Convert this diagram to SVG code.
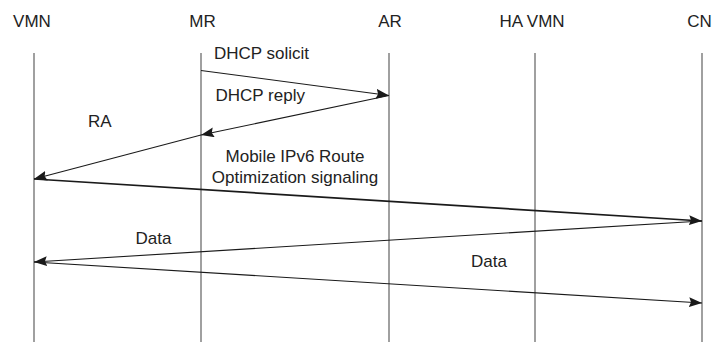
<svg xmlns="http://www.w3.org/2000/svg" width="716" height="342" viewBox="0 0 716 342">
<style>
text{font-family:"Liberation Sans",Arial,sans-serif;font-size:17px;fill:#222}
.life{stroke:#808080;stroke-width:1.5;fill:none}
.msg{stroke:#1a1a1a;stroke-width:1.1;fill:none;marker-end:url(#ah)}
.thick{stroke-width:1.7}
</style>
<defs>
<marker id="ah" markerUnits="userSpaceOnUse" markerWidth="14" markerHeight="10" refX="13" refY="5" orient="auto">
<path d="M0,0 L13,5 L0,10 L2,5 Z" fill="#1a1a1a"/>
</marker>
</defs>
<rect width="716" height="342" fill="#fff"/>
<g id="VMN"><text x="32" y="27" text-anchor="middle">VMN</text><line class="life" x1="34" y1="53" x2="34" y2="342"/></g>
<g id="MR"><text x="202.5" y="27" text-anchor="middle">MR</text><line class="life" x1="201" y1="53" x2="201" y2="342"/></g>
<g id="AR"><text x="390" y="27" text-anchor="middle">AR</text><line class="life" x1="389" y1="53" x2="389" y2="342"/></g>
<g id="HAVMN"><text x="532" y="27" text-anchor="middle">HA VMN</text><line class="life" x1="535" y1="53" x2="535" y2="342"/></g>
<g id="CN"><text x="699.5" y="27" text-anchor="middle">CN</text><line class="life" x1="702" y1="53" x2="702" y2="342"/></g>
<g id="connectors">
<line class="msg" x1="201" y1="70.5" x2="389" y2="95.5"/>
<line class="msg" x1="389" y1="95.5" x2="201" y2="135"/>
<line class="msg" x1="201" y1="135" x2="34" y2="179"/>
<line class="msg thick" x1="34" y1="179" x2="702" y2="221"/>
<line class="msg" x1="702" y1="221" x2="34" y2="262"/>
<line class="msg" x1="34" y1="262" x2="702" y2="303"/>
<text x="214" y="59">DHCP solicit</text>
<text x="215.5" y="101">DHCP reply</text>
<text x="88" y="127">RA</text>
<text x="295" y="162" text-anchor="middle">Mobile IPv6 Route</text>
<text x="295" y="183" text-anchor="middle">Optimization signaling</text>
<text x="135.5" y="244">Data</text>
<text x="471" y="267">Data</text>
</g>
</svg>
